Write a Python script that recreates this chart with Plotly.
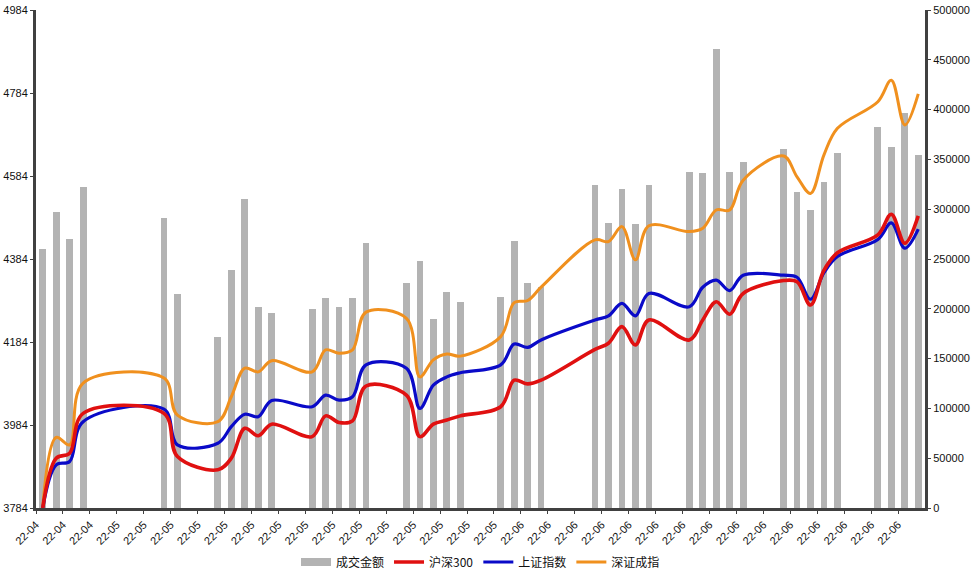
import plotly.graph_objects as go
import pandas as pd

dates = ["2022-04-26", "2022-04-27", "2022-04-28", "2022-04-29",
         "2022-05-05", "2022-05-06",
         "2022-05-09", "2022-05-10", "2022-05-11", "2022-05-12", "2022-05-13",
         "2022-05-16", "2022-05-17", "2022-05-18", "2022-05-19", "2022-05-20",
         "2022-05-23", "2022-05-24", "2022-05-25", "2022-05-26", "2022-05-27",
         "2022-05-30", "2022-05-31", "2022-06-01", "2022-06-02",
         "2022-06-06", "2022-06-07", "2022-06-08", "2022-06-09", "2022-06-10",
         "2022-06-13", "2022-06-14", "2022-06-15", "2022-06-16", "2022-06-17",
         "2022-06-20", "2022-06-21", "2022-06-22", "2022-06-23", "2022-06-24",
         "2022-06-27", "2022-06-28", "2022-06-29", "2022-06-30"]

turnover = [260000, 297200, 269800, 322000,
            290900, 214900,
            171400, 239000, 309900, 201500, 195500,
            199800, 210500, 201500, 210500, 265800,
            225600, 248000, 189500, 216600, 206500,
            211500, 268100, 225600, 222200,
            324300, 286400, 320300, 285100, 324300,
            337000, 336000, 460800, 337000, 347100,
            360400, 317600, 299200, 327000, 356100,
            382200, 362100, 396300, 354400]

hs300 = [3784, 3904, 3916, 4012,
         4012, 3908,
         3876, 3904, 3976, 3958, 3986,
         3956, 4006, 3990, 3994, 4078,
         4056, 3956, 3986, 3996, 4006,
         4028, 4092, 4083, 4092,
         4166, 4181, 4221, 4177, 4237,
         4189, 4237, 4281, 4251, 4301,
         4332, 4329, 4273, 4357, 4399,
         4442, 4492, 4422, 4488]

sh_index = [3784, 3888, 3896, 3992,
            4022, 3936,
            3940, 3980, 4010, 4004, 4043,
            4028, 4056, 4044, 4052, 4129,
            4121, 4024, 4080, 4100, 4110,
            4129, 4179, 4171, 4189,
            4237, 4247, 4277, 4247, 4301,
            4269, 4316, 4333, 4308, 4345,
            4345, 4340, 4287, 4351, 4390,
            4431, 4471, 4410, 4456]

sz_index = [3784, 3954, 3936, 4085,
            4097, 4008,
            3992, 4052, 4121, 4112, 4139,
            4112, 4165, 4157, 4165, 4256,
            4241, 4100, 4141, 4155, 4150,
            4197, 4279, 4284, 4316,
            4430, 4426, 4462, 4382, 4464,
            4450, 4458, 4502, 4502, 4574,
            4632, 4582, 4542, 4635, 4699,
            4763, 4815, 4707, 4782]

left_ticks = [3784, 3984, 4184, 4384, 4584, 4784, 4984]
right_ticks = [0, 50000, 100000, 150000, 200000, 250000, 300000, 350000, 400000, 450000, 500000]
x_tick_dates = pd.date_range("2022-04-26", "2022-06-29", freq="2D")

x = pd.to_datetime(dates) + pd.Timedelta(hours=12)

AXIS = "#404040"
BARCOL = "#b3b3b3"
NUMFONT = dict(family="Liberation Sans, Arial, sans-serif", size=11, color="#111111")

fig = go.Figure()
fig.add_trace(go.Bar(x=x, y=turnover, name="成交金额", marker_color=BARCOL,
                     marker_line_width=0, width=0.5 * 86400000, yaxis="y",
                     showlegend=False))
# legend entry for the bars drawn as a wide grey swatch
fig.add_trace(go.Scatter(x=[None], y=[None], name="成交金额", mode="lines",
                         line=dict(color=BARCOL, width=8), yaxis="y",
                         legendrank=1))
fig.add_trace(go.Scatter(x=x, y=sz_index, name="深证成指", mode="lines",
                         line=dict(color="#f0901e", width=3, shape="spline", smoothing=1),
                         yaxis="y2", legendrank=4))
fig.add_trace(go.Scatter(x=x, y=sh_index, name="上证指数", mode="lines",
                         line=dict(color="#0a0ac8", width=3.2, shape="spline", smoothing=1),
                         yaxis="y2", legendrank=3))
fig.add_trace(go.Scatter(x=x, y=hs300, name="沪深300", mode="lines",
                         line=dict(color="#e01010", width=3.6, shape="spline", smoothing=1),
                         yaxis="y2", legendrank=2))

fig.update_layout(
    width=980, height=574,
    margin=dict(l=36, r=55, t=10, b=66, autoexpand=False),
    paper_bgcolor="white", plot_bgcolor="white",
    bargap=0,
    xaxis=dict(type="date", range=["2022-04-26", "2022-07-01"],
               tickvals=list(x_tick_dates), tickformat="%y-%m",
               tickangle=-45, showgrid=False, zeroline=False,
               showline=True, linecolor=AXIS, linewidth=3,
               ticks="outside", ticklen=3, tickcolor=AXIS, tickwidth=1,
               tickfont=NUMFONT, automargin=False, ticklabeloverflow="allow"),
    yaxis=dict(side="right", range=[0, 500000], tickvals=right_ticks,
               ticktext=[str(v) for v in right_ticks],
               showgrid=False, zeroline=False, showline=True, linecolor=AXIS,
               linewidth=3, ticks="outside", ticklen=3, tickcolor=AXIS,
               tickfont=NUMFONT, automargin=False, ticklabeloverflow="allow"),
    yaxis2=dict(side="left", overlaying="y", range=[3784, 4984],
                tickvals=left_ticks, ticktext=[str(v) for v in left_ticks],
                showgrid=False, zeroline=False, showline=True, linecolor=AXIS,
                linewidth=3, ticks="outside", ticklen=3, tickcolor=AXIS,
                tickfont=NUMFONT, automargin=False, ticklabeloverflow="allow"),
    legend=dict(orientation="h", x=0.5, xanchor="center", y=12 / 574,
                yref="container", yanchor="middle",
                font=dict(family="Noto Sans CJK SC, sans-serif", size=12, color="#111111"),
                itemwidth=30, traceorder="normal"),
    showlegend=True,
)

# remove the browser's default 8px page margin so the figure fills the window exactly
fig.write_html("out.html", config={"displayModeBar": False},
               post_script="document.body.style.margin='0px';")
